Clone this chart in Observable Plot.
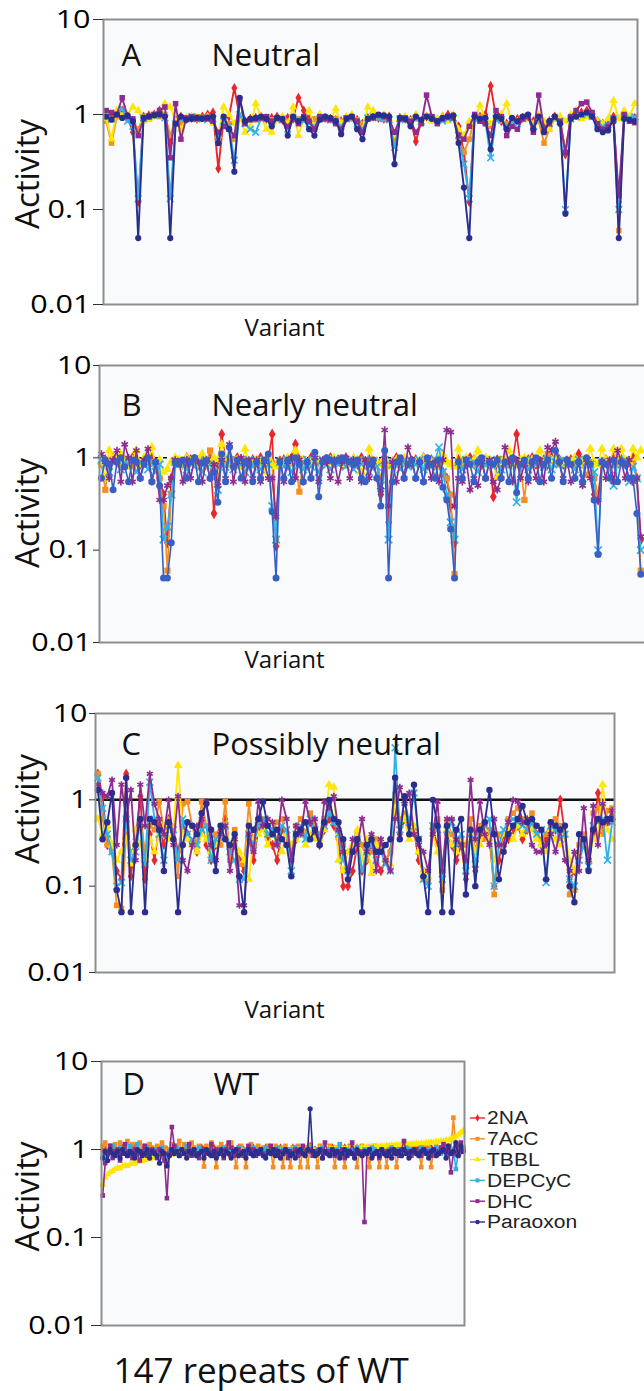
<!DOCTYPE html>
<html><head><meta charset="utf-8">
<script src="https://cdn.jsdelivr.net/npm/d3@7"></script>
<script src="https://cdn.jsdelivr.net/npm/@observablehq/plot@0.6"></script>
<style>
html,body{margin:0;padding:0;background:#fff;width:644px;height:1391px;overflow:hidden;font-family:"Open Sans",sans-serif;}
.panel{position:absolute;left:0;}
#legend{position:absolute;left:468px;top:1105px;}
</style></head><body>
<div id="pA" class="panel" style="top:0px"></div>
<div id="pB" class="panel" style="top:340px"></div>
<div id="pC" class="panel" style="top:690px"></div>
<div id="pD" class="panel" style="top:1040px"></div>
<div id="legend"></div>
<script>
// Activity values are in percent of wild-type activity (100 = 1).
const SERIES = ["2NA","7AcC","TBBL","DEPCyC","DHC","Paraoxon"];
const TICK_VALUES = [1, 10, 100, 1000];
const TICK_LABELS = ["0.01", "0.1", "1", "10"];

// ---- Panel A: Neutral ----
const a_2NA = [90,95,100,110,95,65,12,95,98,100,110,95,50,85,95,90,92,90,95,100,105,27,90,95,190,95,85,90,92,95,90,92,95,88,92,90,150,110,90,85,95,92,90,88,85,92,95,88,80,92,95,92,90,95,55,92,90,88,52,85,95,90,85,95,100,95,75,40,12,95,95,100,200,95,85,80,85,90,92,95,85,90,75,85,95,90,38,95,100,105,110,100,85,80,78,95,12,95,90,92];
const a_7AcC = [85,50,95,100,90,85,70,95,90,100,95,100,60,90,80,90,92,95,90,92,88,55,90,80,55,95,85,90,88,92,90,88,92,90,85,92,90,88,85,90,92,90,88,90,85,92,90,88,80,92,95,92,90,88,55,90,92,88,90,85,95,90,88,92,90,95,55,40,55,92,95,88,75,90,85,80,88,85,90,92,75,85,50,70,90,88,40,90,95,100,100,95,85,80,75,90,6,90,92,88];
const a_TBBL = [90,55,110,95,100,120,110,85,90,95,100,130,120,85,70,92,95,88,90,95,80,60,120,100,80,95,65,75,130,95,70,65,88,95,80,120,60,90,110,75,100,90,85,115,80,95,100,75,70,120,110,95,100,90,60,90,95,85,100,80,95,85,90,95,85,100,70,60,85,90,125,90,80,95,100,130,80,85,90,95,80,100,85,70,90,95,85,100,110,90,95,100,85,80,90,140,90,110,95,130];
const a_DEPCyC = [95,90,100,115,85,75,13,92,95,98,100,92,13,80,90,90,95,90,92,88,90,55,85,75,33,100,80,70,65,90,92,85,88,90,70,92,88,85,80,75,90,92,88,85,75,90,92,80,70,92,95,92,90,88,45,90,88,85,90,85,95,92,88,85,90,92,60,30,13,90,90,85,35,90,88,75,85,80,90,95,75,90,70,80,90,85,10,90,95,100,100,95,80,75,78,90,10,95,92,95];
const a_DHC = [110,105,100,150,95,90,60,90,95,100,110,120,35,130,55,92,95,90,92,90,85,65,75,70,60,145,80,88,90,92,95,85,92,88,75,90,80,95,85,70,95,90,88,80,70,92,95,85,65,90,92,98,95,90,65,90,92,85,65,80,160,95,80,90,95,92,60,55,75,100,85,80,60,110,95,60,75,70,90,95,65,160,70,80,95,85,40,95,110,130,135,105,80,70,75,85,14,100,85,82];
const a_Paraoxon = [95,88,100,92,98,85,5,92,95,98,100,95,5,80,95,88,90,92,90,93,95,50,95,70,25,150,85,90,92,95,90,75,92,90,60,95,85,92,70,60,88,95,92,85,62,90,95,70,55,90,95,100,98,95,30,92,90,75,95,88,95,90,85,92,95,98,50,17,5,95,90,92,43,95,90,70,92,85,95,100,70,95,65,85,95,80,9,90,95,100,105,95,70,65,68,90,5,90,88,85];

// ---- Panel B: Nearly neutral ----
const b_2NA = [90,95,85,100,90,95,85,90,100,95,85,90,95,100,85,60,40,12,60,95,90,85,100,95,90,85,95,90,100,25,85,180,95,90,85,100,95,90,85,95,90,100,85,95,180,11,90,95,85,100,140,95,90,85,100,95,90,85,95,100,90,95,85,100,90,95,85,100,90,95,85,90,40,95,20,90,100,85,95,90,85,95,90,100,85,95,90,85,70,60,30,12,95,90,85,100,95,90,85,95,90,38,95,85,100,90,95,180,85,90,95,100,85,90,95,85,100,90,95,85,90,95,85,110,90,95,85,40,35,90,95,85,100,90,95,85,90,100,60,13];
const b_7AcC = [85,45,95,90,100,85,95,88,82,95,90,85,97,90,83,60,30,6,40,90,95,88,85,97,90,83,95,90,120,85,60,95,88,85,97,90,83,95,92,85,95,90,83,97,88,13,95,90,85,95,88,43,97,90,85,95,88,83,95,90,85,97,90,83,95,88,85,95,90,85,95,90,60,95,30,90,85,97,90,83,95,88,85,97,90,83,95,90,70,60,40,5.5,90,85,97,90,83,95,90,85,95,88,85,97,90,83,95,90,85,35,90,83,97,90,85,110,95,88,85,95,90,85,97,88,83,65,90,60,40,85,95,88,83,97,90,85,95,90,60,6];
const b_TBBL = [90,60,120,100,95,110,90,80,95,120,85,100,90,130,80,95,70,75,90,100,95,80,100,90,85,95,110,90,80,100,95,140,100,90,85,95,80,125,90,85,95,90,70,100,85,80,95,90,100,85,120,90,95,85,90,100,95,85,90,95,100,90,95,85,90,100,95,70,80,125,95,90,85,100,80,90,95,85,100,90,95,90,85,100,95,90,80,100,110,90,85,80,125,90,100,85,95,120,90,100,95,85,60,90,100,120,90,85,95,100,90,95,85,120,90,85,95,100,90,85,95,90,100,85,95,90,125,90,85,125,95,90,125,85,125,95,90,125,100,120];
const b_DEPCyC = [95,85,70,90,95,75,90,85,95,70,90,85,75,90,70,85,13,18,40,90,85,90,75,95,80,90,70,95,85,70,45,90,80,95,75,90,85,70,95,80,90,75,95,85,30,13,90,80,95,70,90,85,75,95,80,90,70,95,85,75,95,85,90,80,95,75,90,85,95,70,90,80,50,95,13,85,90,75,95,80,90,85,95,75,90,80,95,130,70,40,20,13,90,75,95,85,90,70,95,85,90,80,95,75,85,90,95,33,85,90,75,95,85,90,80,95,75,90,85,95,90,85,75,95,60,90,85,70,10,90,85,75,50,90,85,95,55,80,60,10];
const b_DHC = [110,90,60,95,120,55,140,100,55,120,60,95,125,55,90,35,35,50,60,95,90,55,95,60,100,90,55,95,60,85,50,95,60,140,55,90,100,55,95,60,95,55,90,60,60,23,95,55,90,100,60,95,55,90,60,100,55,95,90,60,95,55,90,100,60,95,90,55,95,60,90,60,45,200,30,90,55,95,60,130,95,60,90,55,95,60,90,55,95,200,190,30,60,55,95,45,60,50,90,60,95,55,45,60,130,90,55,95,60,85,55,90,60,95,55,130,120,150,90,60,95,55,60,90,50,95,60,35,35,90,60,95,55,120,90,60,95,55,60,14];
const b_Paraoxon = [60,95,85,45,90,100,80,55,95,90,60,85,100,55,90,50,5,5,12,90,85,95,60,90,100,55,88,92,60,70,33,110,55,130,80,95,60,90,85,55,90,60,95,110,26,5,90,60,95,55,100,85,55,90,60,115,38,90,100,95,90,95,100,95,90,85,95,60,55,85,95,60,30,120,5,55,90,100,60,85,95,60,90,55,100,85,60,95,48,35,17,5,90,60,95,85,55,90,100,60,90,85,95,60,90,55,100,42,85,95,60,90,100,55,85,95,60,120,90,55,95,85,60,90,55,100,85,35,9,90,85,60,95,55,90,85,60,60,25,5.5];

// ---- Panel C: Possibly neutral ----
const c_2NA = [200,110,30,25,15,12,200,13,35,110,12,40,20,50,30,60,45,25,50,40,30,25,55,30,20,30,45,60,25,30,20,15,35,20,45,50,35,30,20,45,40,20,35,45,40,55,40,30,45,60,50,35,10,10,15,30,15,20,30,20,15,20,25,120,40,60,50,45,20,15,12,45,30,15,40,30,20,30,12,45,15,40,50,35,10,20,40,35,45,50,35,45,55,40,30,35,50,45,100,40,12,15,25,35,20,40,120,50,55,65];
const c_7AcC = [200,60,30,25,6,5.5,40,25,30,60,25,50,45,95,45,60,50,13,90,95,50,30,95,50,25,40,30,95,20,45,18,18,90,30,55,60,40,45,55,60,35,25,50,60,40,70,50,40,60,85,55,40,30,15,25,40,30,20,25,35,30,20,25,110,60,70,60,40,25,12,12,50,60,9,55,40,30,35,30,60,25,50,35,45,8,40,30,60,70,80,60,45,70,40,35,40,55,60,50,40,8,9,30,40,20,70,80,40,75,80];
const c_TBBL = [60,40,50,30,20,25,35,18,45,30,20,35,25,40,50,35,45,250,40,35,30,25,40,35,25,30,40,50,30,35,25,20,12,35,40,45,30,40,35,25,40,30,35,45,30,40,35,35,45,150,140,20,15,25,30,45,20,35,14,30,25,20,18,80,50,60,35,50,25,15,13,40,25,15,45,30,25,35,20,40,25,30,45,35,20,30,40,45,35,50,40,60,45,35,30,25,45,35,30,40,20,15,25,30,20,35,40,150,45,35];
const c_DEPCyC = [180,80,40,25,10,11,60,20,25,55,18,160,60,40,20,50,45,20,60,40,35,30,45,50,20,35,40,50,25,20,12,12,40,30,50,60,40,45,30,50,45,15,40,50,35,60,45,40,50,70,55,40,20,15,25,35,15,25,30,20,25,18,15,400,45,100,55,120,35,12,10,50,45,12,45,55,30,40,15,40,18,45,50,60,10,30,45,55,60,55,50,45,55,40,45,11,50,45,35,40,12,10,20,30,17,50,55,60,20,55];
const c_DHC = [150,120,110,170,30,150,60,130,20,150,50,200,90,60,40,100,30,110,20,15,30,50,60,95,30,20,40,50,15,35,6,6,40,25,95,50,60,55,30,100,60,20,50,40,95,55,60,30,95,80,110,45,25,15,35,30,60,25,40,15,35,20,15,60,140,90,120,40,30,25,15,40,95,15,60,60,35,30,20,170,35,95,40,30,60,30,30,55,100,95,55,60,30,25,25,30,40,25,45,20,15,25,15,80,20,85,30,90,55,75];
const c_Paraoxon = [130,35,55,120,9,5,180,5,30,60,5,60,55,45,15,55,35,5,30,55,50,40,70,90,45,15,50,35,30,40,13,5,50,45,60,95,50,40,45,35,30,13,40,45,55,35,45,30,55,100,60,55,35,12,25,35,5,30,35,25,25,30,35,180,35,110,40,150,35,13,5,100,50,5,50,5,45,60,8,45,10,45,55,130,40,12,25,40,50,60,85,55,60,50,45,12,55,50,45,50,10,6.5,40,35,15,45,60,55,60,60];

// ---- Panel D: WT (147 repeats) ----
const d_2NA = [95,100,90,105,95,100,90,95,105,100,90,95,100,105,90,95,100,90,105,95,100,90,95,100,85,95,100,90,105,95,100,90,95,105,100,90,95,100,90,95,105,100,95,90,100,105,95,90,100,95,105,90,95,100,90,105,95,100,90,95,100,105,90,100,95,90,105,100,95,90,100,95,105,90,100,95,90,105,100,95,90,100,95,105,110,95,100,90,105,95,100,90,95,105,100,90,95,100,105,90,95,100,90,105,95,100,90,95,105,100,90,95,100,105,90,95,100,90,105,95,100,90,95,105,100,90,95,100,105,90,95,100,90,105,95,100,90,95,105,100,90,95,100,90,105,95,100];
const d_7AcC = [110,120,95,110,105,115,100,120,95,110,125,100,115,90,105,120,100,110,95,115,105,100,110,95,120,105,100,90,115,100,110,125,95,115,100,110,120,105,95,110,100,64,110,100,120,95,63,105,115,100,90,110,120,100,63,95,110,100,63,105,115,100,95,110,100,105,95,110,100,63,110,95,105,63,110,100,63,105,95,110,63,100,105,63,110,95,100,63,110,105,100,95,110,100,63,105,110,95,63,100,110,95,105,63,100,110,95,105,63,100,110,95,63,105,100,63,110,95,105,63,100,110,95,105,100,110,95,105,100,63,110,95,105,63,100,110,95,105,100,110,95,100,230,105,110,100,105];
const d_TBBL = [40,48,52,55,57,60,62,61,64,66,65,68,70,69,72,74,73,76,78,77,80,82,81,84,85,84,86,88,87,89,90,88,91,90,92,91,93,92,90,93,92,94,93,95,92,94,96,93,95,94,96,95,93,96,94,97,95,96,94,97,95,96,98,96,97,95,98,96,97,99,96,98,97,99,97,98,96,99,98,100,97,99,98,100,99,101,98,100,102,99,101,100,102,100,103,101,102,104,101,103,102,104,103,105,104,106,104,107,105,108,106,109,107,110,108,111,110,112,111,113,112,114,113,115,114,116,115,117,116,118,117,120,119,121,120,123,122,125,124,128,127,132,135,140,147,155,165];
const d_DEPCyC = [85,75,95,100,110,90,95,105,90,100,95,110,90,100,115,95,90,100,105,95,90,100,95,90,105,85,80,95,100,90,105,95,100,90,110,95,100,90,95,105,100,90,95,100,105,90,95,100,90,105,95,100,90,95,100,105,90,95,100,90,95,105,100,90,95,100,105,90,95,100,90,105,95,100,90,95,100,90,105,95,100,90,95,100,105,95,90,100,95,105,90,95,100,90,95,100,115,90,95,100,90,95,100,105,90,95,100,90,95,105,100,90,95,100,90,95,100,105,90,95,100,90,95,105,100,95,90,100,95,105,90,95,100,90,95,105,100,90,95,100,90,95,100,60,95,100,105];
const d_DHC = [30,70,90,110,80,95,100,75,90,115,85,95,80,100,90,75,95,110,85,90,100,95,80,100,90,75,28,90,180,110,95,85,100,90,95,115,85,100,90,80,95,100,90,95,115,85,100,90,95,80,100,120,105,85,95,100,90,85,95,110,90,100,85,95,100,90,85,95,110,90,100,85,95,90,100,80,95,90,100,85,95,110,90,95,100,85,95,90,100,80,120,95,90,100,85,95,90,100,80,95,90,120,85,90,95,90,15,95,100,85,90,95,80,100,90,95,85,100,90,95,85,100,125,90,95,85,95,100,90,85,100,95,90,85,100,95,90,105,115,95,100,55,90,110,95,120,100];
const d_Paraoxon = [80,95,75,100,90,85,95,80,100,90,85,95,90,80,100,95,85,90,100,80,95,90,85,70,95,90,65,85,100,90,95,85,100,90,80,95,90,100,85,90,95,80,100,90,85,95,80,90,100,85,95,90,80,95,100,85,90,95,80,100,90,85,95,90,100,85,80,95,90,100,85,95,80,90,100,95,85,90,80,95,100,90,85,100,290,95,85,90,100,80,95,90,85,100,90,95,80,90,100,85,95,90,80,100,90,85,95,90,100,80,90,95,85,100,90,85,95,80,100,90,95,85,100,90,80,95,100,90,85,95,100,90,80,95,100,85,90,95,100,80,110,90,95,120,85,110,95];

const RED = "#e8262b", ORANGE = "#f58d1f", YELLOW = "#ffe600", CYAN = "#2fb1e8", PURPLE = "#8d2b8e", NAVY = "#2b2e8e", ROYAL = "#3a5fc4";

function styles(paraColor, dhcSymbol, cyanSymbol) {
  return {
    "2NA": {color: RED, symbol: "diamond", filled: true},
    "7AcC": {color: ORANGE, symbol: "square", filled: true},
    "TBBL": {color: YELLOW, symbol: "triangle", filled: true},
    "DEPCyC": {color: CYAN, symbol: cyanSymbol, filled: cyanSymbol === "square"},
    "DHC": {color: PURPLE, symbol: dhcSymbol, filled: dhcSymbol === "square"},
    "Paraoxon": {color: paraColor, symbol: "circle", filled: true}
  };
}

function fit(svg, label, targetFn) {
  svg.querySelectorAll(`g[aria-label="${label}"] text`).forEach(t => {
    const w = t.getComputedTextLength();
    t.setAttribute("textLength", targetFn(w));
    t.setAttribute("lengthAdjust", "spacingAndGlyphs");
  });
}

function makePanel(cfg) {
  const marks = [Plot.frame({fill: "#f8fafc"})];
  if (cfg.ref) marks.push(Plot.ruleY([100], {stroke: "#111", strokeWidth: cfg.ref.w, strokeDasharray: cfg.ref.dash}));
  for (const s of SERIES) {
    const rows = cfg.data[s].map((v, i) => ({i, v}));
    const st = cfg.style[s];
    marks.push(Plot.line(rows, {x: "i", y: "v", stroke: st.color, strokeWidth: cfg.lw}));
    marks.push(Plot.dot(rows, Object.assign({x: "i", y: "v", symbol: st.symbol, r: cfg.r},
      st.filled ? {fill: st.color} : {stroke: st.color, strokeWidth: 1.6})));
  }
  marks.push(Plot.frame({stroke: "#8e8e8e", strokeWidth: 2}));
  marks.push(Plot.axisY({ticks: TICK_VALUES, tickFormat: d => TICK_LABELS[TICK_VALUES.indexOf(d)],
    tickSize: cfg.tickSize, tickPadding: cfg.tickPadding, fontSize: 25, label: null, stroke: "#333"}));
  marks.push(Plot.text([cfg.letter], {frameAnchor: "top-left", text: d => d, dx: cfg.letterDx, dy: cfg.capDy,
    textAnchor: "start", lineAnchor: "top", fontSize: 31, fill: "#111", ariaLabel: "panel-letter"}));
  marks.push(Plot.text([cfg.title], {frameAnchor: "top-left", text: d => d, dx: cfg.titleDx, dy: cfg.capDy,
    textAnchor: "start", lineAnchor: "top", fontSize: 31, fill: "#111", ariaLabel: "panel-title"}));
  marks.push(Plot.text(["Activity"], {frameAnchor: "left", text: d => d, rotate: -90, dx: cfg.ylabDx, dy: cfg.ylabDy,
    textAnchor: "middle", lineAnchor: "middle", fontSize: 33, fill: "#111", ariaLabel: "y-label"}));
  marks.push(Plot.text([cfg.xlabel], {frameAnchor: "bottom-left", text: d => d, dx: cfg.xlabDx, dy: cfg.xlabDy,
    textAnchor: "start", lineAnchor: "top", fontSize: cfg.xlabSize, fill: "#111", ariaLabel: "x-label"}));

  const svg = Plot.plot({
    width: cfg.width, height: cfg.height,
    marginLeft: cfg.ml, marginRight: cfg.mr, marginTop: cfg.mt, marginBottom: cfg.mb,
    x: {domain: [-0.5, cfg.xmax], axis: null},
    y: {type: "log", domain: [1, 1000], axis: null},
    style: {background: "transparent", fontFamily: "'Open Sans', sans-serif", maxWidth: "none", overflow: "visible"},
    marks
  });
  document.getElementById(cfg.el).appendChild(svg);
  fit(svg, "y-axis tick label", w => w * 1.22);
  fit(svg, "panel-letter", w => w * 1.1);
  fit(svg, "panel-title", w => cfg.titleW);
  fit(svg, "y-label", w => 148);
  fit(svg, "x-label", w => cfg.xlabW);
  return svg;
}

makePanel({el: "pA", width: 644, height: 345, ml: 103, mr: 7, mt: 19, mb: 41, xmax: 99.5,
  data: {"2NA": a_2NA, "7AcC": a_7AcC, "TBBL": a_TBBL, "DEPCyC": a_DEPCyC, "DHC": a_DHC, "Paraoxon": a_Paraoxon},
  style: styles(NAVY, "square", "times"), lw: 1.9, r: 3.1, ref: null,
  tickSize: 10, tickPadding: 3,
  letter: "A", title: "Neutral", letterDx: 18, titleDx: 108, capDy: 24, titleW: 122,
  ylabDx: -75, ylabDy: 12, xlabel: "Variant", xlabDx: 141, xlabDy: 14, xlabSize: 24, xlabW: 85});

makePanel({el: "pB", width: 670, height: 340, ml: 99, mr: 20, mt: 25, mb: 38, xmax: 141.5,
  data: {"2NA": b_2NA, "7AcC": b_7AcC, "TBBL": b_TBBL, "DEPCyC": b_DEPCyC, "DHC": b_DHC, "Paraoxon": b_Paraoxon},
  style: styles(ROYAL, "asterisk", "times"), lw: 1.6, r: 3.5, ref: {w: 1.5, dash: "4,4"},
  tickSize: 6, tickPadding: 2,
  letter: "B", title: "Nearly neutral", letterDx: 22, titleDx: 112, capDy: 28, titleW: 220,
  ylabDx: -71, ylabDy: 9, xlabel: "Variant", xlabDx: 145, xlabDy: 8, xlabSize: 24, xlabW: 85});

makePanel({el: "pC", width: 644, height: 340, ml: 95, mr: 30, mt: 23, mb: 58, xmax: 109.5,
  data: {"2NA": c_2NA, "7AcC": c_7AcC, "TBBL": c_TBBL, "DEPCyC": c_DEPCyC, "DHC": c_DHC, "Paraoxon": c_Paraoxon},
  style: styles(NAVY, "asterisk", "times"), lw: 1.8, r: 3.2, ref: {w: 2.5, dash: null},
  tickSize: 6, tickPadding: 2,
  letter: "C", title: "Possibly neutral", letterDx: 26, titleDx: 116, capDy: 19, titleW: 245,
  ylabDx: -67, ylabDy: -34, xlabel: "Variant", xlabDx: 149, xlabDy: 28, xlabSize: 24, xlabW: 85});

makePanel({el: "pD", width: 470, height: 360, ml: 101, mr: 6, mt: 21, mb: 75, xmax: 146.5,
  data: {"2NA": d_2NA, "7AcC": d_7AcC, "TBBL": d_TBBL, "DEPCyC": d_DEPCyC, "DHC": d_DHC, "Paraoxon": d_Paraoxon},
  style: styles(NAVY, "square", "square"), lw: 1.6, r: 2.6, ref: null,
  tickSize: 10, tickPadding: 3,
  letter: "D", title: "WT", letterDx: 21, titleDx: 112, capDy: 11, titleW: 45,
  ylabDx: -73, ylabDy: 3, xlabel: "147 repeats of WT", xlabDx: 12, xlabDy: 33, xlabSize: 35, xlabW: 312});

// Legend for panel D
const LEG_COLORS = {"2NA": RED, "7AcC": ORANGE, "TBBL": YELLOW, "DEPCyC": CYAN, "DHC": PURPLE, "Paraoxon": NAVY};
const LEG_SYMBOLS = {"2NA": d3.symbolDiamond, "7AcC": d3.symbolSquare, "TBBL": d3.symbolTriangle, "DEPCyC": d3.symbolSquare, "DHC": d3.symbolSquare, "Paraoxon": d3.symbolCircle};
const leg = d3.select("#legend").append("svg").attr("width", 176).attr("height", 140)
  .style("font-family", "'Liberation Sans', Arial, sans-serif").style("overflow", "visible");
SERIES.forEach((s, k) => {
  const g = leg.append("g").attr("transform", `translate(0,${13 + k * 20.8})`);
  g.append("line").attr("x1", 2).attr("x2", 17).attr("stroke", LEG_COLORS[s]).attr("stroke-width", 1.4);
  g.append("path").attr("d", d3.symbol(LEG_SYMBOLS[s], 16)()).attr("transform", "translate(9.5,0)").attr("fill", LEG_COLORS[s]);
  const t = g.append("text").attr("x", 19).attr("dy", "0.36em").attr("font-size", 18).attr("fill", "#222").text(s);
  const w = t.node().getComputedTextLength();
  t.attr("textLength", w * 1.17).attr("lengthAdjust", "spacingAndGlyphs");
});
</script>
</body></html>
